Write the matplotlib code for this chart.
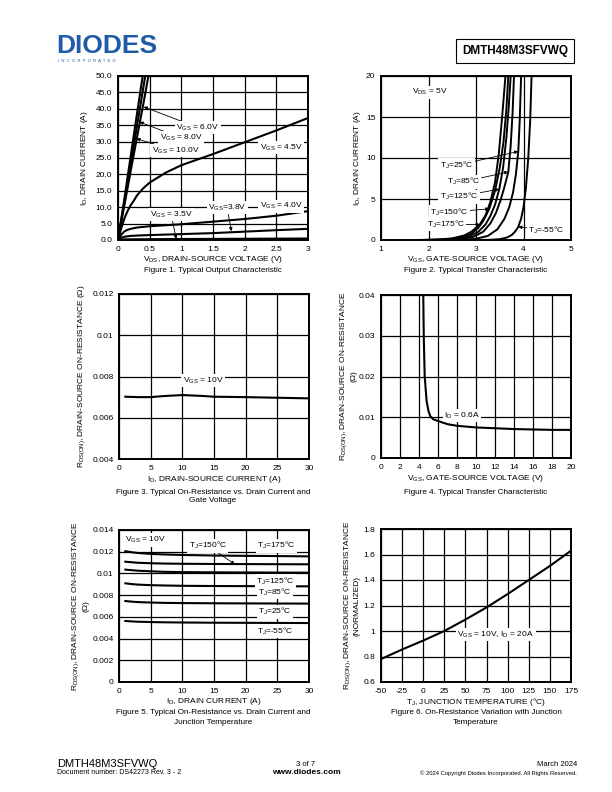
import numpy as np
import matplotlib
matplotlib.use('Agg')
import matplotlib.pyplot as plt

plt.rcParams['font.family'] = ['Liberation Sans', 'DejaVu Sans']
plt.rcParams['mathtext.fontset'] = 'custom'
plt.rcParams['mathtext.rm'] = 'Liberation Sans'
plt.rcParams['mathtext.it'] = 'Liberation Sans'
plt.rcParams['mathtext.default'] = 'rm'

# ---- Figure 1 : output characteristic ----
f1_x10 = [0, 0.1, 0.2, 0.3, 0.39]
f1_y10 = [0, 12.5, 25.5, 38.5, 50]
f1_x8 = [0, 0.1, 0.2, 0.3, 0.43]
f1_y8 = [0, 11.5, 23.2, 34.8, 50]
f1_x6 = [0, 0.1, 0.2, 0.3, 0.4, 0.48]
f1_y6 = [0, 10.5, 21, 31.3, 41.5, 50]
f1_x45 = [0, 0.05, 0.1, 0.15, 0.2, 0.25, 0.3, 0.4, 0.5, 0.75, 1, 1.25, 1.5, 1.75, 2, 2.25, 2.5, 2.75, 3]
f1_y45 = [0, 3.5, 6.5, 8.8, 10.6, 12.0, 13.6, 15.8, 17.5, 20.5, 22.8, 24.5, 26.2, 28.0, 29.8, 31.6, 33.4, 35.3, 37.2]
f1_x40 = [0, 0.05, 0.1, 0.15, 0.2, 0.3, 0.5, 1, 1.5, 2, 2.5, 3]
f1_y40 = [0, 1.6, 2.6, 3.1, 3.4, 3.8, 4.2, 4.8, 5.6, 6.4, 7.4, 8.8]
f1_x38 = [0, 0.05, 0.1, 0.2, 0.3, 0.5, 1, 1.5, 2, 2.5, 3]
f1_y38 = [0, 0.7, 1.0, 1.25, 1.35, 1.5, 1.8, 2.1, 2.55, 3.0, 3.4]
f1_x35 = [0, 0.05, 0.1, 0.5, 1, 2, 3]
f1_y35 = [0, 0.15, 0.2, 0.25, 0.3, 0.38, 0.45]

# ---- Figure 2 : transfer characteristic ----
f2_x175 = [1.75, 2.0, 2.25, 2.5, 2.75, 2.9, 3.0, 3.08, 3.2, 3.3, 3.4, 3.48, 3.55, 3.62]
f2_y175 = [0.0, 0.03, 0.08, 0.2, 0.55, 1.0, 1.5, 1.9, 3.0, 4.6, 7.0, 10.5, 15.0, 20.0]
f2_x150 = [1.85, 2.1, 2.4, 2.7, 2.9, 3.05, 3.15, 3.28, 3.4, 3.5, 3.58, 3.64, 3.68]
f2_y150 = [0, 0.02, 0.08, 0.3, 0.75, 1.5, 2.3, 3.8, 6.0, 8.8, 12.0, 16.0, 20.0]
f2_x125 = [1.95, 2.3, 2.6, 2.85, 3.05, 3.2, 3.3, 3.4, 3.49, 3.57, 3.64, 3.69, 3.73]
f2_y125 = [0, 0.03, 0.12, 0.4, 1.0, 1.9, 2.9, 4.3, 6.2, 8.8, 12.5, 16.3, 20]
f2_x85 = [2.05, 2.4, 2.7, 2.95, 3.15, 3.3, 3.42, 3.52, 3.6, 3.68, 3.73, 3.77, 3.8]
f2_y85 = [0, 0.03, 0.12, 0.4, 1.0, 2.0, 3.3, 4.9, 6.5, 8.3, 11.5, 15.5, 20]
f2_x25 = [2.3, 2.7, 3.0, 3.25, 3.45, 3.6, 3.7, 3.78, 3.84, 3.89, 3.92, 3.95]
f2_y25 = [0, 0.03, 0.15, 0.5, 1.3, 2.6, 4.0, 5.8, 8.0, 10.8, 14.5, 20]
f2_xm55 = [3.0, 3.3, 3.5, 3.65, 3.75, 3.82, 3.89, 3.95, 4.0, 4.05, 4.1, 4.14, 4.17]
f2_ym55 = [0, 0.03, 0.1, 0.3, 0.6, 1.0, 1.6, 2.6, 4.0, 6.3, 10.0, 14.5, 20.0]

# ---- Figure 3 : RDS(on) vs ID ----
f3_id = [1, 3, 5, 7, 10, 13, 15, 20, 25, 30]
f3_r = [0.00702, 0.00700, 0.00700, 0.00705, 0.00710, 0.00706, 0.00702, 0.00700, 0.00697, 0.00694]

# ---- Figure 4 : RDS(on) vs VGS ----
f4_vgs = [4.45, 4.5, 4.6, 4.8, 5.0, 5.2, 5.5, 6, 7, 8, 10, 12, 14, 16, 18, 20]
f4_r = [0.04, 0.03, 0.02, 0.014, 0.0115, 0.0102, 0.0095, 0.0091, 0.0083, 0.0079, 0.0075, 0.0073, 0.0071, 0.0070, 0.0069, 0.0069]

# ---- Figure 5 : RDS(on) vs ID and TJ ----
f5_id = [1, 2, 3, 5, 7, 10, 15, 20, 25, 30]
f5_r175 = [0.01205, 0.01195, 0.01188, 0.01180, 0.01175, 0.01170, 0.01165, 0.01162, 0.01160, 0.01157]
f5_r150 = [0.01108, 0.01103, 0.01098, 0.01094, 0.01091, 0.01089, 0.01087, 0.01086, 0.01085, 0.01084]
f5_r125 = [0.01035, 0.01030, 0.01025, 0.01020, 0.01015, 0.01012, 0.01010, 0.01009, 0.01008, 0.01007]
f5_r85 = [0.00909, 0.00902, 0.00897, 0.00892, 0.00889, 0.00886, 0.00884, 0.00883, 0.00882, 0.00881]
f5_r25 = [0.00746, 0.00740, 0.00736, 0.00732, 0.00729, 0.00727, 0.00725, 0.00724, 0.00723, 0.00722]
f5_rm55 = [0.00562, 0.00558, 0.00555, 0.00552, 0.00550, 0.00548, 0.00546, 0.00545, 0.00544, 0.00543]

# ---- Figure 6 : normalized RDS(on) vs TJ ----
f6_tj = [-50, -25, 0, 25, 50, 75, 100, 125, 150, 175]
f6_r = [0.78, 0.855, 0.925, 1.0, 1.09, 1.185, 1.29, 1.40, 1.51, 1.63]

fs = 6
box = dict(facecolor='white', edgecolor='none', pad=1.0)
arr = dict(arrowstyle='-|>', lw=0.6, color='black', mutation_scale=5, shrinkA=0, shrinkB=0)

fig = plt.figure(figsize=(6.12, 7.92), dpi=100)


def setup(ax, xlim, ylim, xt, yt, xtl, ytl):
    ax.set_xlim(xlim)
    ax.set_ylim(ylim)
    ax.set_xticks(xt)
    ax.set_yticks(yt)
    ax.set_xticklabels(xtl)
    ax.set_yticklabels(ytl)
    ax.tick_params(length=0, labelsize=fs, pad=4)
    ax.grid(True, color='black', lw=0.9)
    ax.set_axisbelow(True)
    for s in ax.spines.values():
        s.set_linewidth(1.4)


def pos(l, t, r, b):
    return [l / 612, 1 - b / 792, (r - l) / 612, (b - t) / 792]


# Figure 1
ax1 = fig.add_axes(pos(118, 76, 308, 240))
xt = [0, 0.5, 1, 1.5, 2, 2.5, 3]
yt = list(range(0, 55, 5))
setup(ax1, (0, 3), (0, 50), xt, yt, ['0', '0.5', '1', '1.5', '2', '2.5', '3'], ['%.1f' % v for v in yt])
for xx, yy in [(f1_x10, f1_y10), (f1_x8, f1_y8), (f1_x6, f1_y6), (f1_x45, f1_y45),
               (f1_x40, f1_y40), (f1_x38, f1_y38), (f1_x35, f1_y35)]:
    ax1.plot(xx, yy, color='black', lw=1.5)
ax1.annotate('V$_{GS}$ = 6.0V', xy=(0.405, 40.6), xytext=(0.92, 34.3), fontsize=fs, va='center', bbox=box, arrowprops=arr)
ax1.annotate('V$_{GS}$ = 8.0V', xy=(0.34, 36), xytext=(0.66, 31.1), fontsize=fs, va='center', bbox=box, arrowprops=arr)
ax1.annotate('V$_{GS}$ = 10.0V', xy=(0.29, 30.9), xytext=(0.53, 27.3), fontsize=fs, va='center', bbox=box, arrowprops=arr)
ax1.text(2.24, 28.2, 'V$_{GS}$ = 4.5V', fontsize=fs, va='center', bbox=box)
ax1.text(2.24, 10.3, 'V$_{GS}$ = 4.0V', fontsize=fs, va='center', bbox=box)
ax1.annotate('V$_{GS}$=3.8V', xy=(1.79, 2.7), xytext=(1.42, 9.8), fontsize=fs, va='center', bbox=box, arrowprops=arr)
ax1.annotate('V$_{GS}$ = 3.5V', xy=(0.92, 0.3), xytext=(0.5, 7.8), fontsize=fs, va='center', bbox=box, arrowprops=arr)
ax1.set_xlabel('V$_{DS}$, DRAIN-SOURCE VOLTAGE (V)', fontsize=fs, labelpad=1)
ax1.set_ylabel('I$_D$, DRAIN CURRENT (A)', fontsize=fs, labelpad=4)

# Figure 2
ax2 = fig.add_axes(pos(381, 76, 571, 240))
setup(ax2, (1, 5), (0, 20), [1, 2, 3, 4, 5], [0, 5, 10, 15, 20],
      ['1', '2', '3', '4', '5'], ['0', '5', '10', '15', '20'])
for xx, yy in [(f2_x175, f2_y175), (f2_x150, f2_y150), (f2_x125, f2_y125),
               (f2_x85, f2_y85), (f2_x25, f2_y25), (f2_xm55, f2_ym55)]:
    ax2.plot(xx, yy, color='black', lw=1.4)
ax2.text(1.65, 18.0, 'V$_{DS}$ = 5V', fontsize=fs, va='center', bbox=box)
ax2.annotate('T$_J$=25°C', xy=(3.89, 10.8), xytext=(2.24, 9.1), fontsize=fs, va='center', bbox=box, arrowprops=arr)
ax2.annotate('T$_J$=85°C', xy=(3.68, 8.3), xytext=(2.38, 7.1), fontsize=fs, va='center', bbox=box, arrowprops=arr)
ax2.annotate('T$_J$=125°C', xy=(3.49, 6.2), xytext=(2.24, 5.3), fontsize=fs, va='center', bbox=box, arrowprops=arr)
ax2.annotate('T$_J$=150°C', xy=(3.28, 3.8), xytext=(2.03, 3.4), fontsize=fs, va='center', bbox=box, arrowprops=arr)
ax2.annotate('T$_J$=175°C', xy=(3.08, 1.9), xytext=(1.96, 1.9), fontsize=fs, va='center', bbox=box, arrowprops=arr)
ax2.annotate('T$_J$=-55°C', xy=(3.89, 1.6), xytext=(4.1, 1.2), fontsize=fs, va='center', bbox=box, arrowprops=arr)
ax2.set_xlabel('V$_{GS}$, GATE-SOURCE VOLTAGE (V)', fontsize=fs, labelpad=1)
ax2.set_ylabel('I$_D$, DRAIN CURRENT (A)', fontsize=fs, labelpad=2)

# Figure 3
ax3 = fig.add_axes(pos(119, 294, 309, 459))
setup(ax3, (0, 30), (0.004, 0.012), [0, 5, 10, 15, 20, 25, 30], [0.004, 0.006, 0.008, 0.01, 0.012],
      ['0', '5', '10', '15', '20', '25', '30'], ['0.004', '0.006', '0.008', '0.01', '0.012'])
ax3.plot(f3_id, f3_r, color='black', lw=1.5)
ax3.text(13.3, 0.0078, 'V$_{GS}$ = 10V', fontsize=fs, ha='center', va='center', bbox=box)
ax3.set_xlabel('I$_D$, DRAIN-SOURCE CURRENT (A)', fontsize=fs, labelpad=2)
ax3.set_ylabel('R$_{DS(ON)}$, DRAIN-SOURCE ON-RESISTANCE (Ω)', fontsize=fs, labelpad=4)

# Figure 4
ax4 = fig.add_axes(pos(381, 295, 571, 458))
setup(ax4, (0, 20), (0, 0.04), list(range(0, 22, 2)), [0, 0.01, 0.02, 0.03, 0.04],
      [str(v) for v in range(0, 22, 2)], ['0', '0.01', '0.02', '0.03', '0.04'])
ax4.plot(f4_vgs, f4_r, color='black', lw=1.5)
ax4.text(8.5, 0.0104, 'I$_D$ = 0.6A', fontsize=fs, ha='center', va='center', bbox=box)
ax4.set_xlabel('V$_{GS}$, GATE-SOURCE VOLTAGE (V)', fontsize=fs, labelpad=2)
ax4.set_ylabel('R$_{DS(ON)}$, DRAIN-SOURCE ON-RESISTANCE\n(Ω)', fontsize=fs, labelpad=1)

# Figure 5
ax5 = fig.add_axes(pos(119, 530, 309, 682))
yt5 = [0, 0.002, 0.004, 0.006, 0.008, 0.01, 0.012, 0.014]
setup(ax5, (0, 30), (0, 0.014), [0, 5, 10, 15, 20, 25, 30], yt5,
      ['0', '5', '10', '15', '20', '25', '30'], ['0', '0.002', '0.004', '0.006', '0.008', '0.01', '0.012', '0.014'])
for rr in [f5_r175, f5_r150, f5_r125, f5_r85, f5_r25, f5_rm55]:
    ax5.plot(f5_id, rr, color='black', lw=1.5)
ax5.text(1, 0.01308, 'V$_{GS}$ = 10V', fontsize=fs, va='center', bbox=box)
ax5.annotate('T$_J$=150°C', xy=(18.3, 0.01084), xytext=(14, 0.01255), fontsize=fs, ha='center', va='center', bbox=box, arrowprops=arr)
ax5.text(24.8, 0.01255, 'T$_J$=175°C', fontsize=fs, ha='center', va='center', bbox=box)
ax5.text(24.7, 0.0093, 'T$_J$=125°C', fontsize=fs, ha='center', va='center', bbox=box)
ax5.text(24.6, 0.00826, 'T$_J$=85°C', fontsize=fs, ha='center', va='center', bbox=box)
ax5.text(24.6, 0.00648, 'T$_J$=25°C', fontsize=fs, ha='center', va='center', bbox=box)
ax5.text(24.7, 0.0047, 'T$_J$=-55°C', fontsize=fs, ha='center', va='center', bbox=box)
ax5.set_xlabel('I$_D$, DRAIN CURRENT (A)', fontsize=fs, labelpad=1)
ax5.set_ylabel('R$_{DS(ON)}$, DRAIN-SOURCE ON-RESISTANCE\n(Ω)', fontsize=fs, labelpad=2)

# Figure 6
ax6 = fig.add_axes(pos(381, 529, 571, 682))
xt6 = [-50, -25, 0, 25, 50, 75, 100, 125, 150, 175]
yt6 = [0.6, 0.8, 1.0, 1.2, 1.4, 1.6, 1.8]
setup(ax6, (-50, 175), (0.6, 1.8), xt6, yt6, [str(v) for v in xt6], ['0.6', '0.8', '1', '1.2', '1.4', '1.6', '1.8'])
ax6.plot(f6_tj, f6_r, color='black', lw=1.5)
ax6.text(86, 0.973, 'V$_{GS}$ = 10V, I$_D$ = 20A', fontsize=fs, ha='center', va='center', bbox=box)
ax6.set_xlabel('T$_J$, JUNCTION TEMPERATURE (°C)', fontsize=fs, labelpad=1)
ax6.set_ylabel('R$_{DS(ON)}$, DRAIN-SOURCE ON-RESISTANCE\n(NORMALIZED)', fontsize=fs, labelpad=2)

# captions
cap = 5.9
c1 = 213 / 612
c2 = 476 / 612
fig.text(c1, 1 - 271 / 792, 'Figure 1. Typical Output Characteristic', fontsize=cap, ha='center', va='center')
fig.text(c2, 1 - 271 / 792, 'Figure 2. Typical Transfer Characteristic', fontsize=cap, ha='center', va='center')
fig.text(c1, 1 - 492 / 792, 'Figure 3. Typical On-Resistance vs. Drain Current and', fontsize=cap, ha='center', va='center')
fig.text(c1, 1 - 501 / 792, 'Gate Voltage', fontsize=cap, ha='center', va='center')
fig.text(c2, 1 - 492 / 792, 'Figure 4. Typical Transfer Characteristic', fontsize=cap, ha='center', va='center')
fig.text(c1, 1 - 713 / 792, 'Figure 5. Typical On-Resistance vs. Drain Current and', fontsize=cap, ha='center', va='center')
fig.text(c1, 1 - 723 / 792, 'Junction Temperature', fontsize=cap, ha='center', va='center')
fig.text(c2, 1 - 713 / 792, 'Figure 6. On-Resistance Variation with Junction', fontsize=cap, ha='center', va='center')
fig.text(c2, 1 - 723 / 792, 'Temperature', fontsize=cap, ha='center', va='center')

# header
fig.text(56 / 612, 1 - 46 / 792, 'DIODES', fontsize=19, fontweight='bold', color='#1f5ba6', va='center', ha='left')
fig.text(58 / 612, 1 - 61 / 792, 'I  N  C  O  R  P  O  R  A  T  E  D', fontsize=3, color='#1f5ba6', va='center', ha='left')
fig.text(515 / 612, 1 - 51 / 792, 'DMTH48M3SFVWQ', fontsize=8.5, fontweight='bold', ha='center', va='center',
         bbox=dict(facecolor='white', edgecolor='black', lw=0.8, pad=4))

# footer
fig.text(57 / 612, 1 - 764 / 792, 'DMTH48M3SFVWQ', fontsize=8, va='center')
fig.text(57 / 612, 1 - 773 / 792, 'Document number: DS42273 Rev. 3 - 2', fontsize=5, va='center')
fig.text(306 / 612, 1 - 764 / 792, '3 of 7', fontsize=5.5, ha='center', va='center')
fig.text(306 / 612, 1 - 773 / 792, 'www.diodes.com', fontsize=6, fontweight='bold', ha='center', va='center')
fig.text(577 / 612, 1 - 764 / 792, 'March 2024', fontsize=5.5, ha='right', va='center')
fig.text(577 / 612, 1 - 773 / 792, '© 2024 Copyright Diodes Incorporated. All Rights Reserved.', fontsize=4.2, ha='right', va='center')

fig.savefig('out.png', dpi=100)
